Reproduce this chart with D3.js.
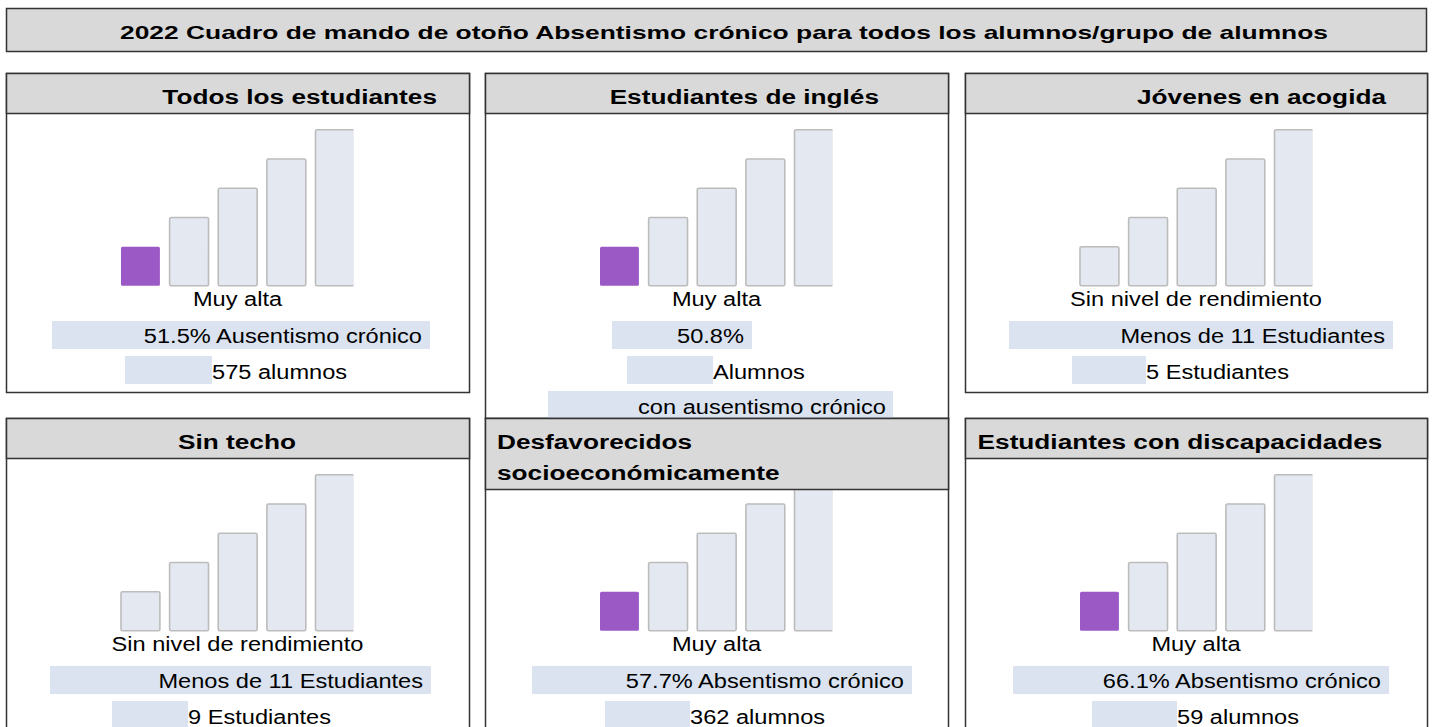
<!DOCTYPE html>
<html>
<head>
<meta charset="utf-8">
<script src="https://cdn.jsdelivr.net/npm/d3@7"></script>
<style>
  body { margin: 0; background: #fff; }
  svg { display: block; font-family: "Liberation Sans", Arial, sans-serif; }
</style>
</head>
<body>
<div id="chart"></div>
<script>
// chart data
var title = "2022 Cuadro de mando de otoño Absentismo crónico para todos los alumnos/grupo de alumnos";
var groups = ["Todos los estudiantes", "Estudiantes de inglés", "Jóvenes en acogida",
  "Sin techo", "Desfavorecidos socioeconómicamente", "Estudiantes con discapacidades"];
var levels = ["Muy alta", "Alta", "Media", "Baja", "Muy baja"];
var levelValues = [1, 2, 3, 4, 5];
var statusLevel = ["Muy alta", "Muy alta", null, null, "Muy alta", "Muy alta"];
var statusText = ["Muy alta", "Muy alta", "Sin nivel de rendimiento",
  "Sin nivel de rendimiento", "Muy alta", "Muy alta"];
var rateText = ["51.5% Ausentismo crónico", "50.8%", "Menos de 11 Estudiantes",
  "Menos de 11 Estudiantes", "57.7% Absentismo crónico", "66.1% Absentismo crónico"];
var countText = ["575 alumnos", "Alumnos", "5 Estudiantes", "9 Estudiantes", "362 alumnos", "59 alumnos"];
var noteText = [null, "con ausentismo crónico", null, null, null, null];

var svgWidth = 1433;
var svgHeight = 727;
var sx = 1.18;     // the picture is stretched sideways
var sxBold = 1.31; // bold text is stretched a bit more

// panel boxes (page pixels)
var layout = [
  { L: 6,   T: 73,  W: 463, H: 319, head: 40, hx: 431, ha: "end",    bandA: [46, 424],  bandB: [119, 206] },
  { L: 485, T: 73,  W: 463, H: 345, head: 40, hx: 394, ha: "end",    bandA: [127, 267], bandB: [142, 228], bandC: [63, 408] },
  { L: 965, T: 73,  W: 462, H: 319, head: 40, hx: 421, ha: "end",    bandA: [44, 428],  bandB: [107, 181] },
  { L: 6,   T: 418, W: 463, H: 330, head: 40, hx: 231, ha: "middle", bandA: [44, 425],  bandB: [106, 182] },
  { L: 485, T: 418, W: 463, H: 330, head: 71, hx: 12,  ha: "start",  bandA: [47, 427],  bandB: [120, 205], wrap: true },
  { L: 965, T: 418, W: 462, H: 330, head: 40, hx: 215, ha: "middle", bandA: [48, 424],  bandB: [127, 212] }
];

var svg = d3.select("#chart")
  .append("svg")
  .attr("width", svgWidth)
  .attr("height", svgHeight);

var defs = svg.append("defs");

var x = d3.scaleBand()
  .domain(levels)
  .range([0, 233.4])
  .paddingInner(0.2);

var h = d3.scaleLinear()
  .domain([1, 5])
  .range([39, 156]);

// stretch text sideways and place it by anchor
function place(text, ax, anchor, k) {
  var w = text.node().getComputedTextLength() * (k || sx);
  var x0 = anchor === "end" ? ax - w : anchor === "middle" ? ax - w / 2 : ax;
  text.attr("x", x0)
    .attr("textLength", w)
    .attr("lengthAdjust", "spacingAndGlyphs");
}

// title box
svg.append("rect")
  .attr("x", 6.5).attr("y", 8.5)
  .attr("width", 1420).attr("height", 43)
  .attr("fill", "#d9d9d9")
  .attr("stroke", "#333").attr("stroke-width", 1.5);

var t = svg.append("text")
  .attr("y", 39)
  .attr("font-size", 19)
  .attr("font-weight", "bold")
  .attr("fill", "#000")
  .text(title);
var tw = t.node().getComputedTextLength();
place(t, 724, "middle", 1208 / tw);

groups.forEach(function(name, i) {
  var p = layout[i];
  var g = svg.append("g");

  g.append("rect")
    .attr("x", p.L + 0.5).attr("y", p.T + 0.5)
    .attr("width", p.W).attr("height", p.H)
    .attr("fill", "#fff")
    .attr("stroke", "#333").attr("stroke-width", 1.5);

  // bars
  var bx = p.L + 115;
  var by = p.T + 212.7;
  defs.append("clipPath").attr("id", "clip" + i)
    .append("rect")
    .attr("x", bx - 2).attr("y", p.T)
    .attr("width", x("Muy baja") + x.bandwidth() + 1)
    .attr("height", 260);

  g.append("g")
    .attr("clip-path", "url(#clip" + i + ")")
    .selectAll("rect")
    .data(levels)
    .enter()
    .append("rect")
    .attr("x", function(d) { return bx + x(d); })
    .attr("y", function(d, j) { return by - h(levelValues[j]); })
    .attr("width", x.bandwidth())
    .attr("height", function(d, j) { return h(levelValues[j]); })
    .attr("rx", 1.5)
    .attr("fill", function(d) { return d === statusLevel[i] ? "#9b59c6" : "#e4e8f0"; })
    .attr("stroke", function(d) { return d === statusLevel[i] ? "none" : "#bcbcbc"; })
    .attr("stroke-width", 1.6);

  // light bands behind the text lines
  var bands = [[p.bandA, 248, 28], [p.bandB, 283, 28]];
  if (p.bandC) bands.push([p.bandC, 318, 27]);
  bands.forEach(function(b) {
    g.append("rect")
      .attr("x", p.L + b[0][0]).attr("y", p.T + b[1])
      .attr("width", b[0][1] - b[0][0]).attr("height", b[2])
      .attr("fill", "#dae3ef");
  });

  var s = g.append("text").attr("y", p.T + 232.5).attr("font-size", 20).text(statusText[i]);
  place(s, p.L + p.W / 2, "middle");

  var r = g.append("text").attr("y", p.T + 270).attr("font-size", 20).text(rateText[i]);
  place(r, p.L + p.bandA[1] - 8, "end");

  var c = g.append("text").attr("y", p.T + 305.5).attr("font-size", 20).text(countText[i]);
  place(c, p.L + p.bandB[1], "start");

  if (noteText[i]) {
    var n = g.append("text").attr("y", p.T + 341).attr("font-size", 20).text(noteText[i]);
    place(n, p.L + p.bandC[1] - 7, "end");
  }

  // header
  g.append("rect")
    .attr("x", p.L + 0.5).attr("y", p.T + 0.5)
    .attr("width", p.W).attr("height", p.head)
    .attr("fill", "#d9d9d9")
    .attr("stroke", "#333").attr("stroke-width", 1.5);

  var lines = p.wrap ? name.split(" ") : [name];
  lines.forEach(function(line, k) {
    var ht = g.append("text")
      .attr("y", p.T + 31 + k * 31)
      .attr("font-size", 20)
      .attr("font-weight", "bold")
      .text(line);
    place(ht, p.L + p.hx, p.ha, sxBold);
  });
});
</script>
</body>
</html>
